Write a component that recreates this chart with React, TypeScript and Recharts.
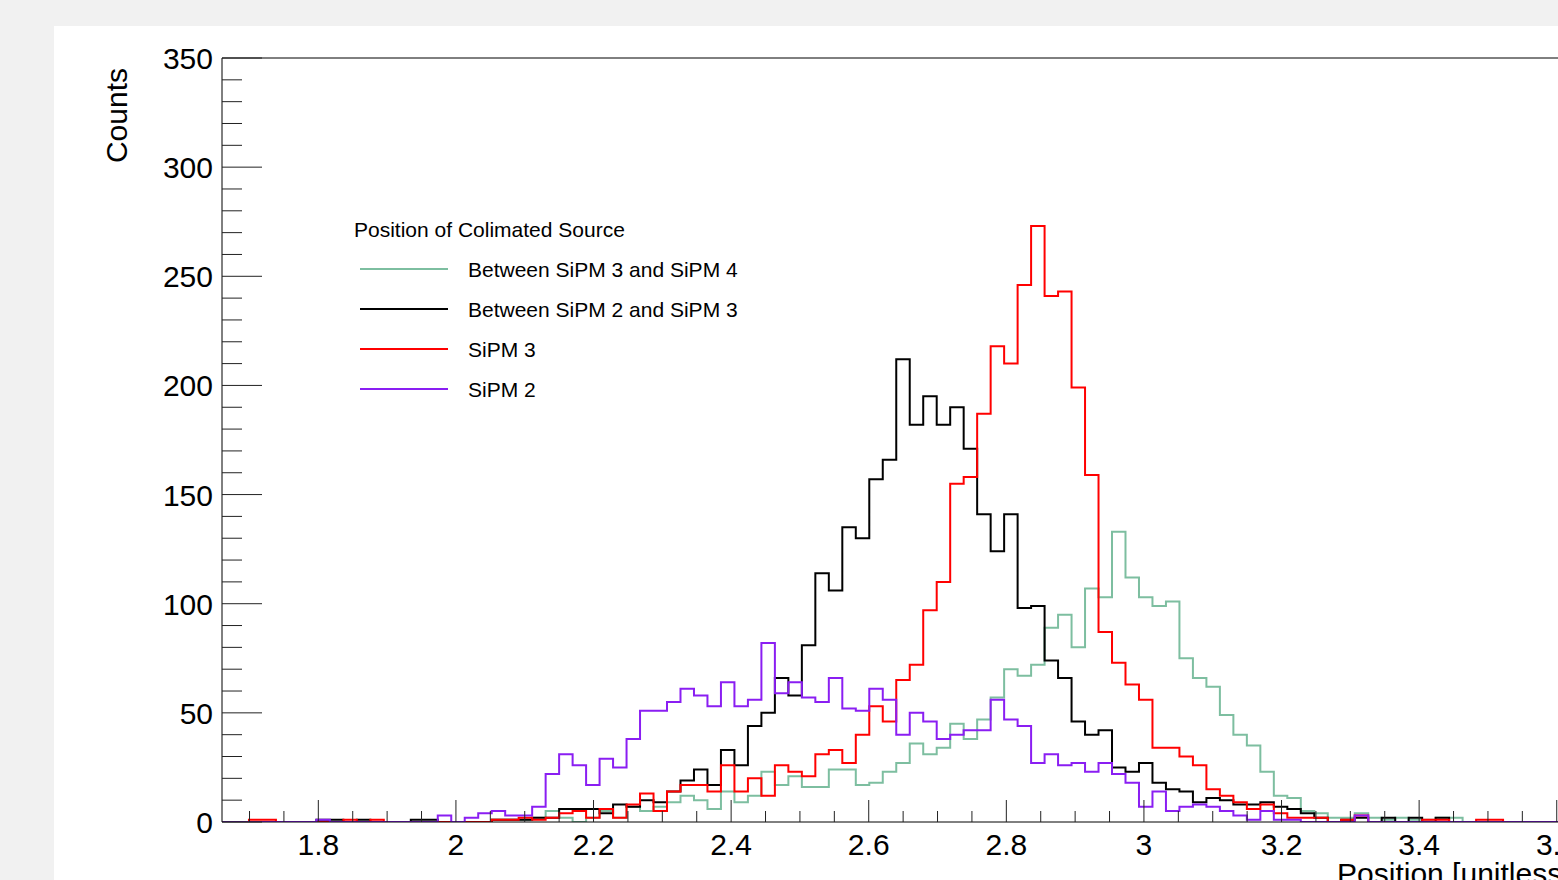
import React from "react";
import { LineChart, Line, XAxis, YAxis, Legend, ReferenceLine } from "recharts";

// histogram binning (100 bins)
const binStart = 1.66;
const binWidth = 0.0196;

// counts per bin
const between34 = [
  0, 0, 0, 0, 0, 0, 0, 0, 0, 0, 0, 0, 0, 0, 0, 0, 0, 0, 0, 0,
  1, 1, 1, 2, 5, 2, 0, 2, 5, 2, 7, 5, 7, 9, 12, 10, 6, 14, 9, 12,
  23, 17, 21, 16, 16, 24, 24, 17, 18, 23, 27, 36, 31, 34, 45, 38, 47, 57, 70, 67,
  72, 89, 95, 80, 107, 103, 133, 112, 103, 99, 101, 75, 66, 62, 49, 40, 35, 23, 12, 11,
  5, 4, 2, 2, 4, 2, 1, 2, 1, 1, 2, 2, 0, 0, 0, 0, 0, 0, 0, 0,
];
const between23 = [
  0, 0, 0, 0, 0, 0, 0, 1, 1, 0, 1, 0, 0, 0, 1, 1, 0, 0, 0, 0,
  1, 1, 1, 2, 2, 6, 6, 6, 4, 8, 7, 10, 9, 14, 19, 24, 17, 33, 26, 44,
  50, 66, 58, 81, 114, 106, 135, 130, 157, 166, 212, 182, 195, 182, 190, 171, 141, 124, 141, 98,
  99, 74, 66, 46, 40, 42, 25, 23, 27, 18, 15, 14, 9, 11, 10, 8, 8, 9, 7, 6,
  4, 2, 0, 1, 2, 0, 2, 0, 2, 0, 2, 0, 0, 0, 0, 0, 0, 0, 0, 0,
];
const sipm3 = [
  0, 0, 1, 1, 0, 0, 0, 0, 0, 1, 0, 1, 0, 0, 0, 0, 0, 0, 0, 0,
  1, 1, 2, 1, 2, 4, 5, 2, 6, 2, 8, 13, 5, 14, 17, 17, 14, 26, 14, 20,
  12, 26, 23, 21, 31, 33, 27, 40, 53, 46, 65, 72, 97, 110, 155, 158, 187, 218, 210, 246,
  273, 241, 243, 199, 159, 87, 73, 63, 56, 34, 34, 30, 26, 15, 12, 9, 6, 8, 4, 2,
  2, 2, 0, 1, 3, 0, 0, 0, 0, 1, 1, 0, 0, 1, 1, 0, 0, 0, 0, 0,
];
const sipm2 = [
  0, 0, 0, 0, 0, 0, 0, 1, 0, 0, 0, 0, 0, 0, 0, 0, 3, 0, 2, 4,
  5, 3, 3, 7, 22, 31, 26, 17, 29, 25, 38, 51, 51, 55, 61, 58, 53, 64, 53, 56,
  82, 59, 64, 57, 55, 66, 52, 51, 61, 56, 40, 50, 46, 38, 40, 42, 42, 56, 47, 44,
  27, 31, 26, 27, 23, 27, 22, 18, 7, 14, 5, 7, 8, 7, 5, 3, 1, 5, 1, 1,
  0, 0, 0, 0, 3, 0, 0, 0, 0, 0, 0, 0, 0, 0, 0, 0, 0, 0, 0, 0,
];

const series = [
  { key: "b34", name: "Between SiPM 3 and SiPM 4", color: "#7dbea0", values: between34 },
  { key: "b23", name: "Between SiPM 2 and SiPM 3", color: "#000000", values: between23 },
  { key: "s3", name: "SiPM 3", color: "#ff0000", values: sipm3 },
  { key: "s2", name: "SiPM 2", color: "#8a1ef2", values: sipm2 },
];

const xTicks = Array.from({ length: 39 }, (_, i) => Math.round((1.7 + i * 0.05) * 100) / 100);
const yTicks = Array.from({ length: 36 }, (_, i) => i * 10);

// bin edges, last edge repeats the last bin so the step closes
const data = Array.from({ length: 101 }, (_, i) => {
  const row: Record<string, number> = { x: binStart + i * binWidth };
  series.forEach((s) => {
    row[s.key] = s.values[Math.min(i, 99)];
  });
  return row;
});

const font = "'Liberation Sans', Arial, Helvetica, sans-serif";

function XTick(props: any) {
  const { x, y, payload } = props;
  const v = payload.value;
  const major = Math.abs(v * 5 - Math.round(v * 5)) < 1e-6;
  return (
    <g>
      <line x1={x} x2={x} y1={y} y2={y - (major ? 22 : 11)} stroke="#222" strokeWidth={1} />
      {major && (
        <text x={x} y={y + 33} textAnchor="middle" fontSize={30} fontFamily={font} fill="#000">
          {String(Math.round(v * 10) / 10)}
        </text>
      )}
    </g>
  );
}

function YTick(props: any) {
  const { x, y, payload } = props;
  const v = payload.value;
  const major = v % 50 === 0;
  return (
    <g>
      <line x1={x} x2={x + (major ? 40 : 20)} y1={y} y2={y} stroke="#222" strokeWidth={1} />
      {major && (
        <text x={x - 9} y={y + 11} textAnchor="end" fontSize={30} fontFamily={font} fill="#000">
          {v}
        </text>
      )}
    </g>
  );
}

function LegendBox() {
  return (
    <svg width={420} height={200} style={{ display: "block", overflow: "visible" }}>
      <text x={0} y={26.5} fontSize={21} fontFamily={font} fill="#000">
        Position of Colimated Source
      </text>
      {series.map((s, i) => (
        <g key={s.key}>
          <line x1={6} x2={94} y1={59 + 40 * i} y2={59 + 40 * i} stroke={s.color} strokeWidth={2} />
          <text x={114} y={66.5 + 40 * i} fontSize={21} fontFamily={font} fill="#000">
            {s.name}
          </text>
        </g>
      ))}
    </svg>
  );
}

export default function App() {
  return (
    <div
      style={{
        position: "absolute",
        left: 0,
        top: 0,
        width: 1558,
        height: 880,
        overflow: "hidden",
        background: "#f1f1f1",
      }}
    >
      <div style={{ position: "absolute", left: 54, top: 26, width: 1600, height: 900, background: "#fff" }} />
      <div style={{ position: "absolute", left: 0, top: 0 }}>
        <LineChart
          width={1600}
          height={900}
          data={data}
          margin={{ top: 58, right: 29.5, bottom: 18, left: 122 }}
        >
          <XAxis
            dataKey="x"
            type="number"
            domain={[1.66, 3.62]}
            allowDataOverflow
            ticks={xTicks}
            interval={0}
            tick={<XTick />}
            tickLine={false}
            tickSize={0}
            tickMargin={0}
            height={60}
            axisLine={{ stroke: "#000", strokeWidth: 1 }}
            label={{
              content: (p: any) => (
                <text
                  x={p.viewBox.x + p.viewBox.width}
                  y={p.viewBox.y + 62}
                  textAnchor="end"
                  fontSize={30}
                  fontFamily={font}
                  fill="#000"
                >
                  Position [unitless]
                </text>
              ),
            }}
          />
          <YAxis
            type="number"
            domain={[0, 350]}
            allowDataOverflow
            ticks={yTicks}
            interval={0}
            tick={<YTick />}
            tickLine={false}
            tickSize={0}
            tickMargin={0}
            width={100}
            axisLine={{ stroke: "#000", strokeWidth: 1 }}
            label={{
              content: (p: any) => (
                <text
                  transform={`translate(${p.viewBox.x + 5},${p.viewBox.y + 10}) rotate(-90)`}
                  textAnchor="end"
                  fontSize={30}
                  fontFamily={font}
                  fill="#000"
                >
                  Counts
                </text>
              ),
            }}
          />
          <ReferenceLine y={350} stroke="#000" strokeWidth={1} />
          <Legend
            layout="vertical"
            align="center"
            verticalAlign="middle"
            wrapperStyle={{ left: 354, top: 210, width: 420, height: 200 }}
            content={() => <LegendBox />}
          />
          {series.map((s) => (
            <Line
              key={s.key}
              dataKey={s.key}
              name={s.name}
              type="stepAfter"
              stroke={s.color}
              strokeWidth={2}
              dot={false}
              activeDot={false}
              isAnimationActive={false}
            />
          ))}
        </LineChart>
      </div>
    </div>
  );
}
